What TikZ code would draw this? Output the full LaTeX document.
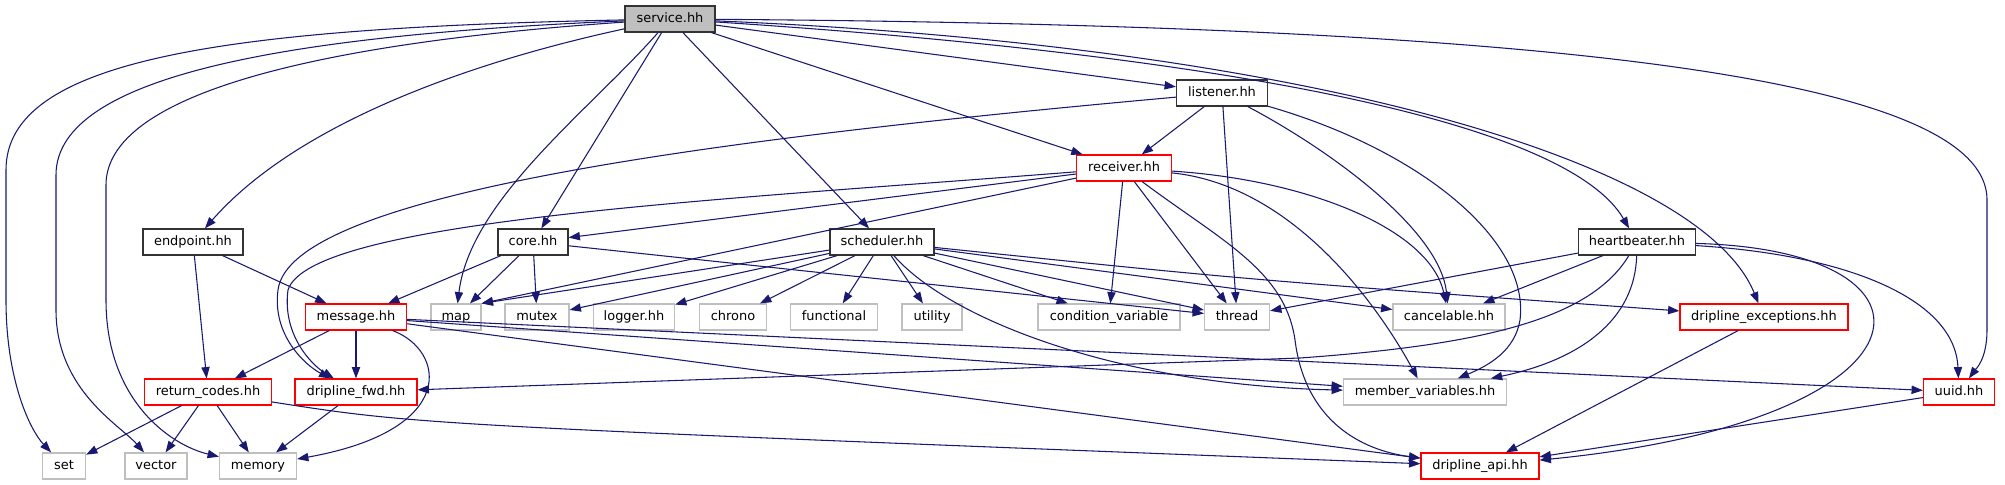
\documentclass[tikz,border=0pt]{standalone}
\usepackage{fontspec}
\usepackage{xcolor}
\usepackage{tikz}
\usetikzlibrary{arrows.meta, positioning}
\setmainfont{DejaVu Sans}
\definecolor{edgeblue}{HTML}{191970}
\definecolor{boxred}{HTML}{FF0000}
\definecolor{boxgray}{HTML}{BFBFBF}
\tikzstyle{file} = [rectangle, draw=black!80, line width=0.9pt, fill=white, minimum height=19.5pt, inner xsep=2pt, inner ysep=0pt, text height=7.2pt, text depth=2pt, font=\fontsize{9.7}{11}\selectfont]
\tikzstyle{root} = [file, fill=boxgray]
\tikzstyle{redfile} = [file, draw=boxred]
\tikzstyle{sysfile} = [file, draw=boxgray]
\tikzstyle{arrow} = [line width=0.8pt, draw=edgeblue, -{Triangle[length=8.5pt, width=6.2pt]}]

\begin{document}
\begin{tikzpicture}[x=0.75pt, y=-0.75pt]
    \path [fill=white] (0,0) rectangle (2005,485);
    \useasboundingbox (0,0) rectangle (2005,485);

    \node (service) [root, minimum width=67.5pt] at (670,19) {service.hh};
    \node (listener) [file, minimum width=68.25pt] at (1222,93) {listener.hh};
    \node (receiver) [redfile, minimum width=71.25pt] at (1124,168) {receiver.hh};
    \node (endpoint) [file, minimum width=75pt] at (193,242) {endpoint.hh};
    \node (core) [file, minimum width=52.5pt] at (533,242) {core.hh};
    \node (scheduler) [file, minimum width=78pt] at (882,242) {scheduler.hh};
    \node (heartbeater) [file, minimum width=87.75pt] at (1637,242) {heartbeater.hh};
    \node (message) [redfile, minimum width=75.75pt] at (356,317) {message.hh};
    \node (map) [sysfile, minimum width=37.5pt] at (456,317) {map};
    \node (mutex) [sysfile, minimum width=48pt] at (537,317) {mutex};
    \node (logger) [sysfile, minimum width=60.75pt] at (634,317) {logger.hh};
    \node (chrono) [sysfile, minimum width=50.25pt] at (733,317) {chrono};
    \node (functional) [sysfile, minimum width=65.25pt] at (834,317) {functional};
    \node (utility) [sysfile, minimum width=45pt] at (932,317) {utility};
    \node (condvar) [sysfile, minimum width=106.5pt] at (1109,317) {condition\_variable};
    \node (thread) [sysfile, minimum width=48.75pt] at (1237,317) {thread};
    \node (cancelable) [sysfile, minimum width=84pt] at (1449,317) {cancelable.hh};
    \node (exceptions) [redfile, minimum width=126pt] at (1764,317) {dripline\_exceptions.hh};
    \node (retcodes) [redfile, minimum width=95.25pt] at (208,392) {return\_codes.hh};
    \node (fwd) [redfile, minimum width=91.5pt] at (356,392) {dripline\_fwd.hh};
    \node (membervars) [sysfile, minimum width=122.25pt] at (1425,392) {member\_variables.hh};
    \node (uuid) [redfile, minimum width=53.25pt] at (1959,392) {uuid.hh};
    \node (set) [sysfile, minimum width=32.25pt] at (64,466) {set};
    \node (vector) [sysfile, minimum width=46.5pt] at (156,466) {vector};
    \node (memory) [sysfile, minimum width=57.75pt] at (258,466) {memory};
    \node (api) [redfile, minimum width=88.5pt] at (1480,466) {dripline\_api.hh};

    \draw [arrow] (service) .. controls (220,28) and (6,60) .. (6,170) -- (6,300) .. controls (6,380) and (30,430) .. (set);
    \draw [arrow] (service) .. controls (290,35) and (56,75) .. (56,175) -- (56,310) .. controls (56,390) and (120,425) .. (vector);
    \draw [arrow] (service) .. controls (360,40) and (106,85) .. (106,185) -- (106,300) .. controls (106,400) and (170,445) .. (memory);
    \draw [arrow] (service) .. controls (480,60) and (300,120) .. (endpoint);
    \draw [arrow] (service) .. controls (590,110) and (470,200) .. (map);
    \draw [arrow] (service) -- (core);
    \draw [arrow] (service) -- (scheduler);
    \draw [arrow] (service) -- (receiver);
    \draw [arrow] (service) -- (listener);
    \draw [arrow] (service) .. controls (1150,50) and (1560,110) .. (heartbeater);
    \draw [arrow] (service) .. controls (1300,45) and (1700,160) .. (exceptions);
    \draw [arrow] (service) .. controls (1500,25) and (1987,70) .. (1987,200) -- (1987,330) .. controls (1987,360) and (1975,370) .. (uuid);

    \draw [arrow] (listener) -- (receiver);
    \draw [arrow] (listener) .. controls (700,140) and (290,195) .. (278,290) .. controls (272,335) and (305,365) .. (fwd);
    \draw [arrow] (listener) -- (thread);
    \draw [arrow] (listener) .. controls (1330,150) and (1440,230) .. (cancelable);
    \draw [arrow] (listener) .. controls (1420,150) and (1530,240) .. (1520,320) .. controls (1515,350) and (1490,365) .. (membervars);

    \draw [arrow] (receiver) -- (core);
    \draw [arrow] (receiver) .. controls (720,200) and (310,220) .. (288,290) .. controls (282,335) and (312,365) .. (fwd);
    \draw [arrow] (receiver) -- (map.north east);
    \draw [arrow] (receiver) -- (condvar);
    \draw [arrow] (receiver) -- (thread);
    \draw [arrow] (receiver) .. controls (1220,240) and (1285,270) .. (1295,340) .. controls (1305,420) and (1360,450) .. (api);
    \draw [arrow] (receiver) .. controls (1290,185) and (1375,300) .. (membervars);
    \draw [arrow] (receiver) .. controls (1310,180) and (1430,230) .. (cancelable);

    \draw [arrow] (core) -- (message);
    \draw [arrow] (core) -- (map);
    \draw [arrow] (core) -- (mutex);
    \draw [arrow] (core) -- (thread);

    \draw [arrow] (scheduler) -- (map.north east);
    \draw [arrow] (scheduler) -- (mutex);
    \draw [arrow] (scheduler) -- (logger);
    \draw [arrow] (scheduler) -- (chrono);
    \draw [arrow] (scheduler) -- (functional);
    \draw [arrow] (scheduler) -- (utility);
    \draw [arrow] (scheduler) -- (condvar);
    \draw [arrow] (scheduler) -- (thread);
    \draw [arrow] (scheduler) -- (cancelable);
    \draw [arrow] (scheduler) .. controls (1250,280) .. (exceptions);
    \draw [arrow] (scheduler) .. controls (950,320) and (1120,385) .. (membervars);

    \draw [arrow] (endpoint) -- (message);
    \draw [arrow] (endpoint) -- (retcodes);

    \draw [arrow] (heartbeater) -- (thread);
    \draw [arrow] (heartbeater) -- (cancelable);
    \draw [arrow] (heartbeater) .. controls (1590,320) and (1480,345) .. (1300,358) -- (fwd);
    \draw [arrow] (heartbeater) .. controls (1635,320) and (1580,360) .. (membervars);
    \draw [arrow] (heartbeater) .. controls (1850,255) and (1955,300) .. (uuid);
    \draw [arrow] (heartbeater) .. controls (1960,250) and (1945,420) .. (api);

    \draw [arrow] (message) -- (retcodes);
    \draw [arrow] (message) -- (fwd);
    \draw [arrow] (message) .. controls (445,350) and (460,430) .. (memory);
    \draw [arrow] (message) -- (membervars);
    \draw [arrow] (message) -- (uuid);
    \draw [arrow] (message) -- (api);

    \draw [arrow] (retcodes) -- (set);
    \draw [arrow] (retcodes) -- (vector);
    \draw [arrow] (retcodes) -- (memory);
    \draw [arrow] (retcodes) .. controls (420,425) .. (api);
    \draw [arrow] (fwd) -- (memory);
    \draw [arrow] (exceptions) -- (api);
    \draw [arrow] (uuid) -- (api);
\end{tikzpicture}
\end{document}
